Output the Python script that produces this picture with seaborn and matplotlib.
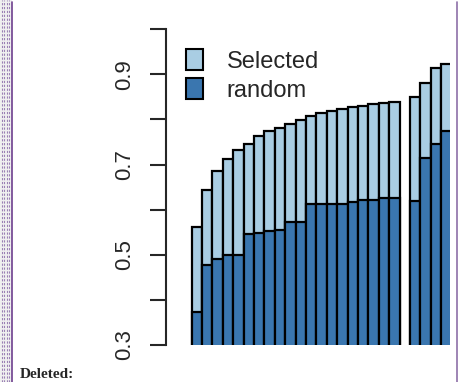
import matplotlib
matplotlib.use("Agg")
import matplotlib.pyplot as plt
from matplotlib.patches import Patch, Rectangle
from matplotlib.lines import Line2D
import numpy as np
import pandas as pd
import seaborn as sns

# bar heights; the empty slot is a gap in the original plot
groups = [str(i) for i in range(1, 26)]
selected = [0.561, 0.643, 0.686, 0.713, 0.732, 0.745, 0.763, 0.774, 0.781, 0.791,
            0.799, 0.807, 0.814, 0.819, 0.824, 0.827, 0.831, 0.834, 0.836, 0.838,
            np.nan, 0.849, 0.880, 0.915, 0.923]
random_sel = [0.373, 0.478, 0.491, 0.500, 0.500, 0.547, 0.549, 0.552, 0.555, 0.573,
              0.573, 0.612, 0.613, 0.613, 0.613, 0.618, 0.622, 0.622, 0.626, 0.626,
              np.nan, 0.619, 0.715, 0.746, 0.774]
legend_labels = ["Selected", "random"]
y_ticks = [0.3, 0.4, 0.5, 0.6, 0.7, 0.8, 0.9, 1.0]
y_labels = ["0.3", "", "0.5", "", "0.7", "", "0.9", ""]

light = "#a9cde3"
dark = "#3a76af"
purple = "#6e3f8e"

df = pd.DataFrame({"group": groups, "selected": selected, "random": random_sel})

sns.set_style("ticks")
plt.rcParams["font.family"] = ["Liberation Sans", "DejaVu Sans"]

W, H = 458, 382
fig = plt.figure(figsize=(W / 100, H / 100), dpi=100)
ax = fig.add_axes([166 / W, (H - 345) / H, (450 - 166) / W, (345 - 29.3) / H])

sns.barplot(data=df, x="group", y="selected", order=groups, color=light,
            saturation=1, width=1, edgecolor="black", linewidth=1.6, ax=ax)
sns.barplot(data=df, x="group", y="random", order=groups, color=dark,
            saturation=1, width=1, edgecolor="black", linewidth=1.6, ax=ax)

ax.set_xlim(-2.97, 24.34)
ax.set_ylim(0.3, 1.0)
ax.set_xlabel("")
ax.set_ylabel("")
ax.set_xticks([])
ax.set_yticks(y_ticks)
ax.set_yticklabels(y_labels, rotation=90, va="center", fontsize=16)
ax.tick_params(axis="y", direction="out", length=11.5, width=1.5, pad=11)
for side in ["top", "right", "bottom"]:
    ax.spines[side].set_visible(False)
ax.spines["left"].set_linewidth(1.5)

handles = [Patch(facecolor=light, edgecolor="black", linewidth=1.5),
           Patch(facecolor=dark, edgecolor="black", linewidth=1.5)]
ax.legend(handles, legend_labels, loc="upper left", bbox_to_anchor=(0.072, 0.937),
          frameon=False, fontsize=17, handlelength=0.7, handleheight=1.0,
          handletextpad=1.0, labelspacing=0.22, borderaxespad=0, borderpad=0)

# document page decoration around the cropped figure
fig.add_artist(Rectangle((0, 0), 11.5 / W, 1, transform=fig.transFigure,
                         facecolor="#f0f0f0", edgecolor="none", zorder=0))
for xp in [1.5, 4.0, 6.5, 9.0]:
    fig.add_artist(Line2D([xp / W, xp / W], [0, 1], color="#9a80b4",
                          linestyle=(0, (2, 1.5)), linewidth=0.8))
fig.add_artist(Line2D([11.5 / W, 11.5 / W], [0, 0.995], color=purple, linewidth=1.2))
fig.add_artist(Line2D([456.5 / W, 456.5 / W], [0, 0.995], color="#8d70a8", linewidth=1.2))
fig.text(20 / W, 1 / H, "Deleted:", family=["Liberation Serif"],
         fontweight="bold", fontsize=11, va="bottom", ha="left")

fig.savefig("out.png", dpi=100)
